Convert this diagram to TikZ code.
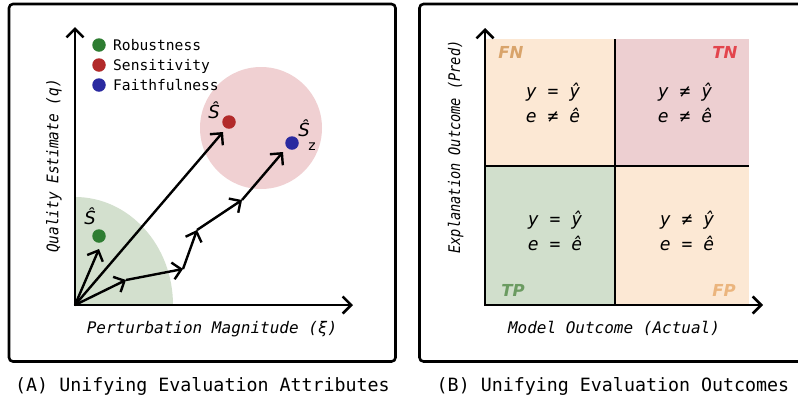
\documentclass[tikz,border=0pt]{standalone}
\usepackage{fontspec}
\usepackage{graphicx}
\setmainfont{DejaVu Sans}
\setsansfont{DejaVu Sans}
\setmonofont{DejaVu Sans Mono}
\usetikzlibrary{arrows.meta}
\definecolor{peach}{HTML}{FCE8D4}
\definecolor{pinkcell}{HTML}{EDCFD1}
\definecolor{greencell}{HTML}{D1DFCC}
\definecolor{greenzone}{HTML}{D3E0CE}
\definecolor{pinkzone}{HTML}{F0D0D2}
\definecolor{dgreen}{HTML}{2E7D32}
\definecolor{dred}{HTML}{B22A2A}
\definecolor{dblue}{HTML}{2A2AA0}
\definecolor{tagfn}{HTML}{D9A46B}
\definecolor{tagtn}{HTML}{E3454D}
\definecolor{tagtp}{HTML}{6B9B61}
\definecolor{tagfp}{HTML}{EBB57E}
\newcommand\legfont{\ttfamily\fontsize{14.6}{16}\selectfont}
\newcommand\axfont{\ttfamily\itshape\fontsize{16}{18}\selectfont}
\newcommand\capfont{\ttfamily\fontsize{18.3}{20}\selectfont}
\newcommand\cellfont{\ttfamily\itshape\fontsize{18}{20}\selectfont}
\newcommand\tagfont{\sffamily\bfseries\itshape\fontsize{16.5}{18}\selectfont}
\newcommand\hatfont{\sffamily\itshape\fontsize{18}{20}\selectfont}
\tikzset{
  panel/.style={line width=2.6pt, rounded corners=4pt},
  axisline/.style={line width=2.6pt, line join=miter},
  barb/.tip={Straight Barb[angle=90:12pt]},
  vec/.style={line width=2.4pt, -barb},
  dot/.style={circle, inner sep=0pt, minimum size=13.5pt},
  legtext/.style={anchor=base west, inner sep=0pt, font=\legfont},
  axlabel/.style={anchor=base, inner sep=0pt, font=\axfont},
  captext/.style={anchor=base, inner sep=0pt, font=\capfont},
  celltext/.style={anchor=base, inner sep=0pt, font=\cellfont},
  tagtext/.style={anchor=base, inner sep=0pt, font=\tagfont},
  hattext/.style={anchor=base, inner sep=0pt, font=\hatfont},
}
\begin{document}
\begin{tikzpicture}[x=1pt,y=-1pt]
\useasboundingbox (0,0) rectangle (798,400);
\clip (0,0) rectangle (798,400);
\fill[white] (0,0) rectangle (798,400);

% ---------------- Panel A ----------------
\draw[panel] (9,4) rectangle (395.5,361.5);
\coordinate (O) at (75,305);
\coordinate (Ytop) at (75,27);
\coordinate (Xend) at (353,305);
\fill[greenzone] (O) -- (173,305) arc[start angle=0, end angle=-90, x radius=98, y radius=108] -- cycle;
\fill[pinkzone] (261,128) circle[radius=61];

% legend
\node[dot, fill=dgreen] (lg1) at (99,45) {};
\node[dot, fill=dred] (lg2) at (99,65) {};
\node[dot, fill=dblue] (lg3) at (99,85) {};
\node[legtext] (lt1) at (113,50.5) {Robustness};
\node[legtext] (lt2) at (113,70) {Sensitivity};
\node[legtext] (lt3) at (113,90) {Faithfulness};

% points
\node[dot, fill=dgreen] (pg) at (99,236) {};
\node[dot, fill=dred] (pr) at (229,122) {};
\node[dot, fill=dblue] (pb) at (292,143) {};
\node[hattext] (hg) at (90,224) {Ŝ};
\node[hattext] (hr) at (214,118.3) {Ŝ};
\node[hattext] (hb) at (304,136.7) {Ŝ};
\node[anchor=base, inner sep=0pt, font=\sffamily\fontsize{14}{16}\selectfont] (hz) at (312,150.7) {z};

% vectors
\coordinate (t1) at (99,249);
\coordinate (t2) at (223,132);
\coordinate (c1) at (126,280);
\coordinate (c2) at (183,269);
\coordinate (c3) at (197,230);
\coordinate (c4) at (242,200);
\coordinate (c5) at (283,152);
\draw[vec] (O) -- (t1);
\draw[vec] (O) -- (t2);
\draw[vec] (O) -- (c1);
\draw[vec] (c1) -- (c2);
\draw[vec] (c2) -- (c3);
\draw[vec] (c3) -- (c4);
\draw[vec] (c4) -- (c5);

% axes
\draw[axisline, barb-barb] (Ytop) -- (O) -- (Xend);
\node[axlabel] (xl) at (212,333) {Perturbation Magnitude (ξ)};
\node[axlabel, rotate=90] (yl) at (58.3,166) {\scalebox{0.9}[1]{Quality Estimate (q)}};
\node[captext] (capA) at (202.5,391.5) {(A) Unifying Evaluation Attributes};

% ---------------- Panel B ----------------
\draw[panel] (419.5,4) rectangle (815,361.5);
\coordinate (O2) at (485,305);
\coordinate (Y2top) at (485,28);
\coordinate (X2end) at (763,305);
\fill[peach] (485,39) rectangle (615,166);
\fill[pinkcell] (615,39) rectangle (749,166);
\fill[greencell] (485,166) rectangle (615,305);
\fill[peach] (615,166) rectangle (749,305);
\coordinate (vtop) at (615,39);
\coordinate (vbot) at (615,305);
\coordinate (hl) at (485,166);
\coordinate (hr) at (749,166);
\draw[line width=2.6pt] (vtop) -- (vbot);
\draw[line width=2.6pt] (hl) -- (hr);
\draw[axisline, barb-barb] (Y2top) -- (O2) -- (X2end);

\node[tagtext, text=tagfn] (fn) at (511,58.3) {FN};
\node[tagtext, text=tagtn] (tn) at (725,58.3) {TN};
\node[tagtext, text=tagtp] (tp) at (513,296.7) {TP};
\node[tagtext, text=tagfp] (fp) at (724,296.7) {FP};

\node[celltext] (c11) at (553,97.5) {y = ŷ};
\node[celltext] (c12) at (553,122.5) {e ≠ ê};
\node[celltext] (c21) at (685,97.5) {y ≠ ŷ};
\node[celltext] (c22) at (685,122.5) {e ≠ ê};
\node[celltext] (c31) at (555,225.5) {y = ŷ};
\node[celltext] (c32) at (555,250.5) {e = ê};
\node[celltext] (c41) at (687,225.5) {y ≠ ŷ};
\node[celltext] (c42) at (687,250.5) {e = ê};

\node[axlabel] (xl2) at (614,333) {Model Outcome (Actual)};
\node[axlabel, rotate=90] (yl2) at (460,147) {\scalebox{0.85}[1]{Explanation Outcome (Pred)}};
\node[captext] (capB) at (613,391.5) {(B) Unifying Evaluation Outcomes};
\end{tikzpicture}
\end{document}
